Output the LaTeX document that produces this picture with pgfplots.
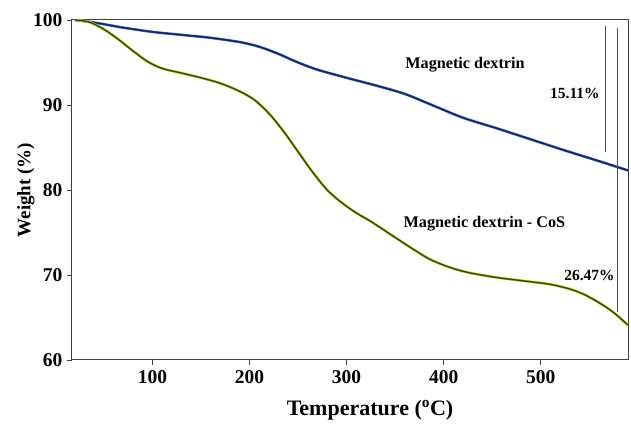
\documentclass[border=0pt]{standalone}
\usepackage{pgfplots}
\pgfplotsset{compat=1.18}
\usepackage{pgfplotstable}
\usepackage{fontspec}
\setmainfont{Liberation Serif}

\definecolor{navyline}{RGB}{25,35,85}
\definecolor{navyglow}{RGB}{45,105,215}
\definecolor{oliveline}{RGB}{55,72,10}
\definecolor{oliveglow}{RGB}{180,210,30}

% TGA curves
\pgfplotstableread{
T    W
20   100.0
40   99.7
70   99.1
100  98.6
130  98.25
160  97.9
190  97.4
210  96.85
230  96.0
250  95.0
270  94.15
300  93.2
330  92.3
360  91.3
390  89.9
420  88.5
455  87.25
490  85.95
525  84.65
560  83.4
590  82.3
}\dextrin

\pgfplotstableread{
T    W
20   100.0
35   99.75
50   98.9
65   97.7
80   96.35
95   95.1
110  94.3
130  93.75
150  93.2
170  92.55
190  91.6
205  90.6
220  89.0
235  86.9
250  84.5
265  82.1
280  80.0
295  78.5
310  77.3
325  76.3
345  74.8
365  73.3
385  71.9
405  70.95
425  70.3
455  69.7
490  69.2
510  68.9
530  68.35
545  67.7
560  66.75
575  65.6
590  64.1
}\dextrincos

\begin{document}
\begin{tikzpicture}
\useasboundingbox (-72pt,-65pt) rectangle (559pt,360pt);
\begin{axis}[
  width=556pt, height=340pt, scale only axis,
  xmin=17, xmax=590, ymin=60, ymax=100,
  xtick={100,200,...,500}, ytick={60,70,...,100},
  tick align=outside, tick pos=left,
  major tick length=5pt,
  axis line style={line width=1pt, black!75},
  every tick/.style={black!75, line width=0.9pt},
  /pgf/number format/assume math mode=true,
  tick label style={font=\fontsize{19.5}{22}\selectfont\bfseries},
  yticklabel style={xshift=-1pt},
  xticklabel style={yshift=-2pt},
  xlabel={Temperature (\textsuperscript{o}C)},
  ylabel={Weight (\%)},
  label style={font=\fontsize{19}{22}\selectfont\bfseries},
  xlabel style={at={(axis description cs:0.536,0)}, anchor=center, yshift=-50pt,
    font=\fontsize{22}{24}\selectfont\bfseries},
  ylabel style={at={(axis description cs:0,0.5)}, anchor=center, yshift=46pt},
]
\addplot[navyglow, line width=2.6pt, smooth] table {\dextrin};
\addplot[navyline, line width=1.4pt, smooth] table {\dextrin};
\addplot[oliveglow, line width=2.6pt, smooth] table {\dextrincos};
\addplot[oliveline, line width=1.4pt, smooth] table {\dextrincos};

\draw[black!70, line width=0.9pt] (axis cs:566.5,99.33) -- (axis cs:566.5,84.5);
\draw[black!70, line width=0.9pt] (axis cs:579.6,99.1) -- (axis cs:579.6,65.7);

\node[font=\fontsize{16.2}{18}\selectfont\bfseries] at (axis cs:422,94.8) {Magnetic dextrin};
\node[font=\fontsize{16.2}{18}\selectfont\bfseries] at (axis cs:442,76.0) {Magnetic dextrin - CoS};
\node[font=\fontsize{15.5}{18}\selectfont\bfseries, anchor=east, inner sep=0pt] at (axis cs:561,91.4) {15.11\%};
\node[font=\fontsize{15.5}{18}\selectfont\bfseries, anchor=east, inner sep=0pt] at (axis cs:576.5,70.0) {26.47\%};
\end{axis}
\end{tikzpicture}
\end{document}
